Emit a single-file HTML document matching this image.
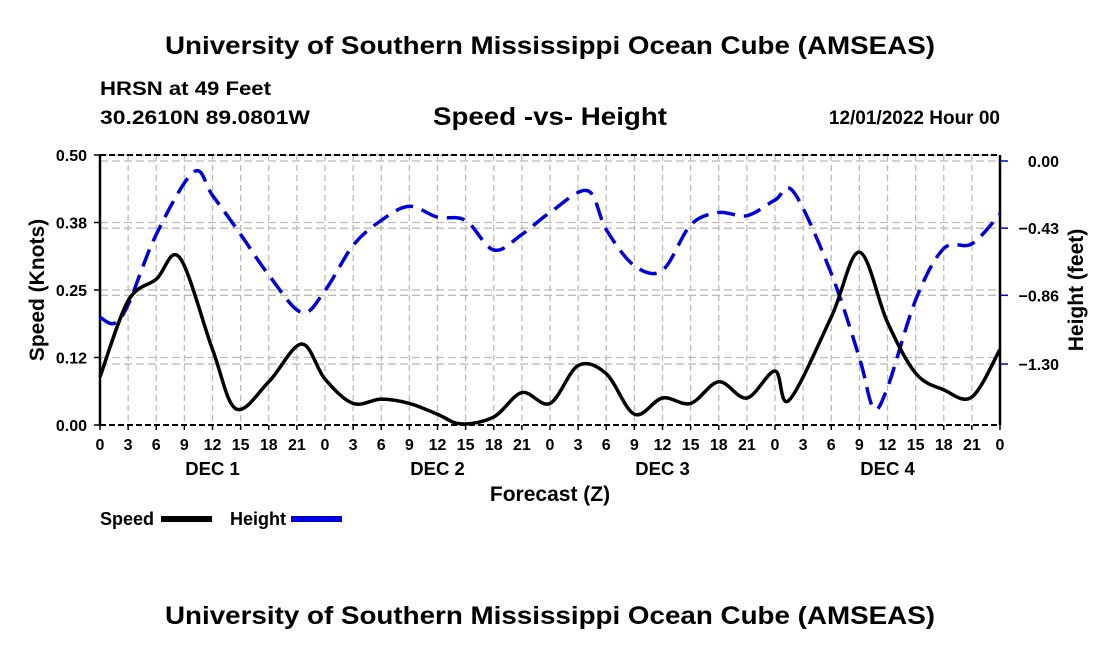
<!DOCTYPE html>
<html><head><meta charset="utf-8">
<style>
body{margin:0;background:#fff;width:1100px;height:650px;overflow:hidden;font-family:"Liberation Sans",sans-serif;}
svg text{font-family:"Liberation Sans",sans-serif;font-weight:bold;}
</style></head>
<body>
<svg id="chart" width="1100" height="650">
<text x="165" y="54" font-size="25" textLength="770" lengthAdjust="spacingAndGlyphs">University of Southern Mississippi Ocean Cube (AMSEAS)</text>
<text x="100" y="95" font-size="19" textLength="171" lengthAdjust="spacingAndGlyphs">HRSN at 49 Feet</text>
<text x="100" y="124" font-size="19" textLength="210" lengthAdjust="spacingAndGlyphs">30.2610N  89.0801W</text>
<text x="433" y="125" font-size="25" textLength="234" lengthAdjust="spacingAndGlyphs">Speed -vs- Height</text>
<text x="1000" y="124" text-anchor="end" font-size="19">12/01/2022 Hour 00</text>
<g id="grid"></g>
<g id="axes"></g>
<g id="series"></g>
<text x="550" y="501" text-anchor="middle" font-size="21">Forecast (Z)</text>
<text transform="translate(44,290) rotate(-90)" text-anchor="middle" font-size="21">Speed (Knots)</text>
<text transform="translate(1083,290) rotate(-90)" text-anchor="middle" font-size="21">Height (feet)</text>
<g>
<text x="100" y="525" font-size="18">Speed</text>
<rect x="161" y="516" width="51" height="6" fill="#000"/>
</g>
<g>
<text x="230" y="525" font-size="18">Height</text>
<rect x="291" y="516" width="51" height="6" fill="#00c"/>
<line x1="291" y1="519" x2="342" y2="519" stroke="#0000ff" stroke-width="2" stroke-dasharray="10,4"/>
</g>
<text x="165" y="624" font-size="25" textLength="770" lengthAdjust="spacingAndGlyphs">University of Southern Mississippi Ocean Cube (AMSEAS)</text>
</svg>
<script>
const speedHours=[0,3,6,8.5,12,14.5,18,21.5,24,27,30,33,36,38.5,42,45,48,51,54,57,60,63,66,69,72,73.5,78,81,84,87,90,93,96];
const speedVals=[0.089,0.23,0.27,0.31,0.14,0.03,0.08,0.15,0.085,0.04,0.048,0.04,0.02,0.002,0.015,0.06,0.04,0.11,0.095,0.02,0.05,0.04,0.08,0.05,0.10,0.046,0.20,0.32,0.19,0.096,0.065,0.052,0.14];
const heightHours=[0,1.5,3,6,10,12,15,18,21.5,24,27,30,33,36,39,42,45,48,52,54,57,60,63,66,69,72,74,78,81,82.5,84,87,90,93,96];
const heightVals=[-1.0,-1.04,-0.92,-0.47,-0.07,-0.22,-0.47,-0.73,-0.97,-0.83,-0.54,-0.38,-0.29,-0.36,-0.38,-0.57,-0.47,-0.33,-0.19,-0.44,-0.67,-0.70,-0.41,-0.33,-0.35,-0.25,-0.20,-0.72,-1.26,-1.58,-1.45,-0.89,-0.56,-0.53,-0.34];
const xTickLabels=["0","3","6","9","12","15","18","21","0","3","6","9","12","15","18","21","0","3","6","9","12","15","18","21","0","3","6","9","12","15","18","21","0"];
const dayLabels=["DEC 1","DEC 2","DEC 3","DEC 4"];
const leftTicks=[0,0.125,0.25,0.375,0.5];
const leftTickLabels=["0.00","0.12","0.25","0.38","0.50"];
const rightTicks=[0,-0.43,-0.86,-1.30];
const rightTickLabels=["0.00","\u22120.43","\u22120.86","\u22121.30"];
const X0=100,X1=1000,HMAX=96;
const xs=h=>X0+(X1-X0)*h/HMAX;
const ySpeed=v=>425-540*v;
const yHeight=v=>161-156.2*v;
const NS="http://www.w3.org/2000/svg";
function mk(tag,attrs,parent){const e=document.createElementNS(NS,tag);for(const k in attrs)e.setAttribute(k,attrs[k]);parent.appendChild(e);return e;}
const grid=document.getElementById('grid'),axes=document.getElementById('axes'),series=document.getElementById('series');
xTickLabels.forEach((l,i)=>{const x=xs(i*3);
 if(i>0&&i<xTickLabels.length-1){const g=mk('line',{x1:x,x2:x,y1:155,y2:425,stroke:'#bbb','stroke-width':1.3,'stroke-dasharray':'6,4'},grid);
 
 }
 mk('line',{x1:x,x2:x,y1:425,y2:430,stroke:'#000','stroke-width':1.5},axes);
 const tx=mk('text',{x:x,y:450,'text-anchor':'middle','font-size':16},axes);tx.textContent=l;
 
 
});
dayLabels.forEach((d,i)=>{const tx=mk('text',{x:xs(i*24+12),y:475,'text-anchor':'middle','font-size':18.5},axes);tx.textContent=d;
 
 });
leftTicks.forEach((v,i)=>{const y=ySpeed(v);
 if(v>0){const g=mk('line',{x1:X0,x2:X1,y1:y,y2:y,stroke:'#bbb','stroke-width':1.3,'stroke-dasharray':'8,4'},grid);
 
 }
 mk('line',{x1:X0-6,x2:X0,y1:y,y2:y,stroke:'#000','stroke-width':1.5},axes);
 const tx=mk('text',{x:87,y:y+6,'text-anchor':'end','font-size':16},axes);tx.textContent=leftTickLabels[i];
 
 });
rightTicks.forEach((v,i)=>{const y=yHeight(v);
 const g=mk('line',{x1:X0,x2:X1,y1:y,y2:y,stroke:'#bbb','stroke-width':1.3,'stroke-dasharray':'8,4'},grid);
 
 
 mk('line',{x1:X1,x2:X1+8,y1:y,y2:y,stroke:'#00c','stroke-width':1.5},axes);
 const tx=mk('text',{x:1059,y:y+6,'text-anchor':'end','font-size':16},axes);tx.textContent=rightTickLabels[i];
 
 });
mk('line',{x1:X0,x2:X0,y1:155,y2:425,stroke:'#000','stroke-width':2.5},axes);
mk('line',{x1:X1,x2:X1,y1:155,y2:425,stroke:'#000','stroke-width':2.5},axes);
mk('line',{x1:X0,x2:X1,y1:155,y2:155,stroke:'#000','stroke-width':2,'stroke-dasharray':'6,3'},axes);
mk('line',{x1:X0,x2:X1,y1:425,y2:425,stroke:'#000','stroke-width':2,'stroke-dasharray':'6,3'},axes);
function smooth(pts){let d='M'+pts[0][0]+','+pts[0][1];
 for(let i=0;i<pts.length-1;i++){const p0=pts[i-1]||pts[i],p1=pts[i],p2=pts[i+1],p3=pts[i+2]||p2;
  const c1=[p1[0]+(p2[0]-p0[0])/6,p1[1]+(p2[1]-p0[1])/6],c2=[p2[0]-(p3[0]-p1[0])/6,p2[1]-(p3[1]-p1[1])/6];
  d+=' C'+c1[0].toFixed(1)+','+c1[1].toFixed(1)+' '+c2[0].toFixed(1)+','+c2[1].toFixed(1)+' '+p2[0].toFixed(1)+','+p2[1].toFixed(1);}
 return d;}
const hp=mk('path',{d:smooth(heightHours.map((h,i)=>[xs(h),yHeight(heightVals[i])])),fill:'none',stroke:'#0000dd','stroke-width':3.5,'stroke-dasharray':'18,9'},series);


const sp=mk('path',{d:smooth(speedHours.map((h,i)=>[xs(h),ySpeed(speedVals[i])])),fill:'none',stroke:'#000','stroke-width':3.5},series);


</script>
</body></html>
